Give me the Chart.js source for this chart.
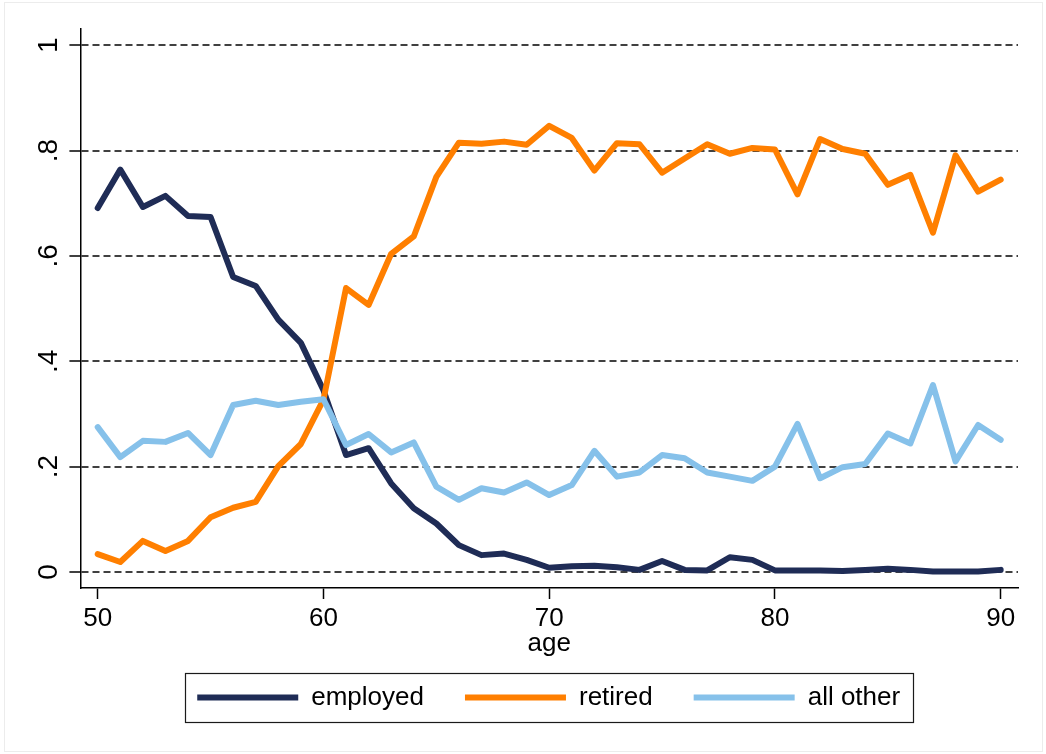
<!DOCTYPE html>
<html>
<head>
<meta charset="utf-8">
<title>Employment status by age</title>
<script src="https://cdn.jsdelivr.net/npm/chart.js@4.4.1/dist/chart.umd.min.js"></script>
<style>
  html, body { margin: 0; padding: 0; background: #ffffff; }
  #wrap { width: 1046px; height: 754px; position: relative; }
  canvas { display: block; }
</style>
</head>
<body>
<div id="wrap"><canvas id="chart" width="1046" height="754"></canvas></div>
<script>
// Share of people in each status, by single year of age
const ages = [50, 51, 52, 53, 54, 55, 56, 57, 58, 59,
              60, 61, 62, 63, 64, 65, 66, 67, 68, 69,
              70, 71, 72, 73, 74, 75, 76, 77, 78, 79,
              80, 81, 82, 83, 84, 85, 86, 87, 88, 89, 90];

const employed = [0.691, 0.764, 0.693, 0.714, 0.676, 0.674, 0.560, 0.543, 0.479, 0.435,
                  0.345, 0.222, 0.235, 0.168, 0.121, 0.092, 0.051, 0.032, 0.035, 0.023,
                  0.008, 0.011, 0.012, 0.009, 0.004, 0.021, 0.004, 0.003, 0.028, 0.023,
                  0.003, 0.003, 0.003, 0.002, 0.004, 0.006, 0.004, 0.001, 0.001, 0.001, 0.004];

const retired = [0.034, 0.019, 0.059, 0.040, 0.059, 0.104, 0.122, 0.133, 0.201, 0.243,
                 0.327, 0.539, 0.507, 0.604, 0.637, 0.750, 0.815, 0.813, 0.817, 0.811,
                 0.847, 0.824, 0.762, 0.814, 0.812, 0.758, 0.785, 0.812, 0.794, 0.805,
                 0.802, 0.717, 0.822, 0.803, 0.794, 0.735, 0.754, 0.644, 0.791, 0.722, 0.745];

const allOther = [0.275, 0.218, 0.249, 0.247, 0.264, 0.222, 0.317, 0.325, 0.317, 0.323,
                  0.328, 0.241, 0.262, 0.227, 0.246, 0.162, 0.137, 0.159, 0.151, 0.170,
                  0.146, 0.165, 0.230, 0.181, 0.189, 0.222, 0.216, 0.189, 0.181, 0.173,
                  0.200, 0.281, 0.178, 0.199, 0.205, 0.263, 0.244, 0.355, 0.210, 0.279, 0.251];

const seriesNames = ['employed', 'retired', 'all other'];
const xTicks = [50, 60, 70, 80, 90];
const yTicks = [0, 0.2, 0.4, 0.6, 0.8, 1];
const yTickLabels = ['0', '.2', '.4', '.6', '.8', '1'];

const FONT = "'Liberation Sans', Arial, Helvetica, sans-serif";
Chart.defaults.font.family = FONT;
Chart.defaults.font.size = 26;
Chart.defaults.color = '#000000';

const toPoints = (vals) => ages.map((a, i) => ({ x: a, y: vals[i] }));

const lineStyle = (color) => ({
  borderColor: color,
  backgroundColor: color,
  borderWidth: 6,
  borderCapStyle: 'round',
  borderJoinStyle: 'round',
  pointRadius: 0,
  pointHoverRadius: 0,
  tension: 0,
  fill: false
});

// White page, faint outer frame, and the boxed legend centred under the plot
const frame = {
  id: 'frame',
  beforeDraw(chart) {
    const ctx = chart.ctx;
    ctx.save();
    ctx.fillStyle = '#ffffff';
    ctx.fillRect(0, 0, chart.width, chart.height);
    ctx.restore();
  },
  afterUpdate(chart) {
    const lg = chart.legend;
    const boxes = lg.legendHitBoxes;
    if (!boxes || !boxes.length) return;
    const ca = chart.chartArea;
    const left = Math.min(...boxes.map(b => b.left)) - 12;
    const right = Math.max(...boxes.map(b => b.left + b.width)) + 13;
    const dx = (ca.left + ca.right) / 2 - (left + right) / 2;
    const itemCenter = boxes[0].top + boxes[0].height / 2;
    const dy = 697.5 - itemCenter;
    lg.left += dx; lg.right += dx;
    lg.top += dy; lg.bottom += dy;
    boxes.forEach(b => { b.left += dx; b.top += dy; });
    this._rect = { x: left + dx, y: 697.5 - 25, w: right - left, h: 49 };
  },
  afterDraw(chart) {
    const ctx = chart.ctx;
    ctx.save();
    if (this._rect) {
      const r = this._rect;
      ctx.strokeStyle = '#1a1a1a';
      ctx.lineWidth = 1.2;
      ctx.strokeRect(Math.round(r.x) + 0.5, Math.round(r.y) + 0.5, Math.round(r.w), Math.round(r.h));
    }
    ctx.strokeStyle = '#ececec';
    ctx.lineWidth = 1;
    ctx.strokeRect(4.5, 2.5, chart.width - 8, chart.height - 5);
    ctx.restore();
  }
};

new Chart(document.getElementById('chart'), {
  type: 'line',
  data: {
    datasets: [
      Object.assign({ label: seriesNames[0], data: toPoints(employed), order: 2 }, lineStyle('#1f2c56')),
      Object.assign({ label: seriesNames[1], data: toPoints(retired), order: 1 }, lineStyle('#ff7f00')),
      Object.assign({ label: seriesNames[2], data: toPoints(allOther), order: 0 }, lineStyle('#86c1ea'))
    ]
  },
  options: {
    responsive: false,
    animation: false,
    devicePixelRatio: 1,
    layout: { padding: { left: 19.8, right: 28, top: 29, bottom: 17.6 } },
    plugins: {
      legend: {
        display: true,
        position: 'bottom',
        labels: {
          usePointStyle: true,
          pointStyle: 'line',
          pointStyleWidth: 101,
          padding: 41,
          color: '#000000',
          font: { size: 26, family: FONT },
          sort: (a, b) => a.datasetIndex - b.datasetIndex
        }
      },
      tooltip: { enabled: false }
    },
    scales: {
      x: {
        type: 'linear',
        min: 49.233,
        max: 90.767,
        afterBuildTicks: (scale) => { scale.ticks = xTicks.map(v => ({ value: v })); },
        ticks: {
          padding: 4,
          maxRotation: 0,
          autoSkip: false,
          color: '#000000',
          font: { size: 26 },
          callback: (v) => String(v)
        },
        grid: {
          drawOnChartArea: false,
          drawTicks: true,
          tickLength: 11,
          tickColor: '#000000',
          tickWidth: 1.5
        },
        border: { display: true, color: '#000000', width: 1.5 },
        title: {
          display: true,
          text: 'age',
          color: '#000000',
          font: { size: 26 },
          padding: { top: -10, bottom: 0 }
        }
      },
      y: {
        type: 'linear',
        min: -0.0304,
        max: 1.0308,
        afterBuildTicks: (scale) => { scale.ticks = yTicks.map(v => ({ value: v })); },
        ticks: {
          padding: 8,
          minRotation: 90,
          maxRotation: 90,
          crossAlign: 'center',
          autoSkip: false,
          color: '#000000',
          font: { size: 28 },
          callback: (v, i) => yTickLabels[i]
        },
        grid: {
          drawOnChartArea: true,
          drawTicks: true,
          color: '#404040',
          lineWidth: 2,
          tickLength: 11,
          tickColor: '#404040',
          tickWidth: 2,
          tickBorderDash: []
        },
        border: { display: true, color: '#000000', width: 1.5, dash: [7, 4] }
      }
    }
  },
  plugins: [frame]
});
</script>
</body>
</html>
